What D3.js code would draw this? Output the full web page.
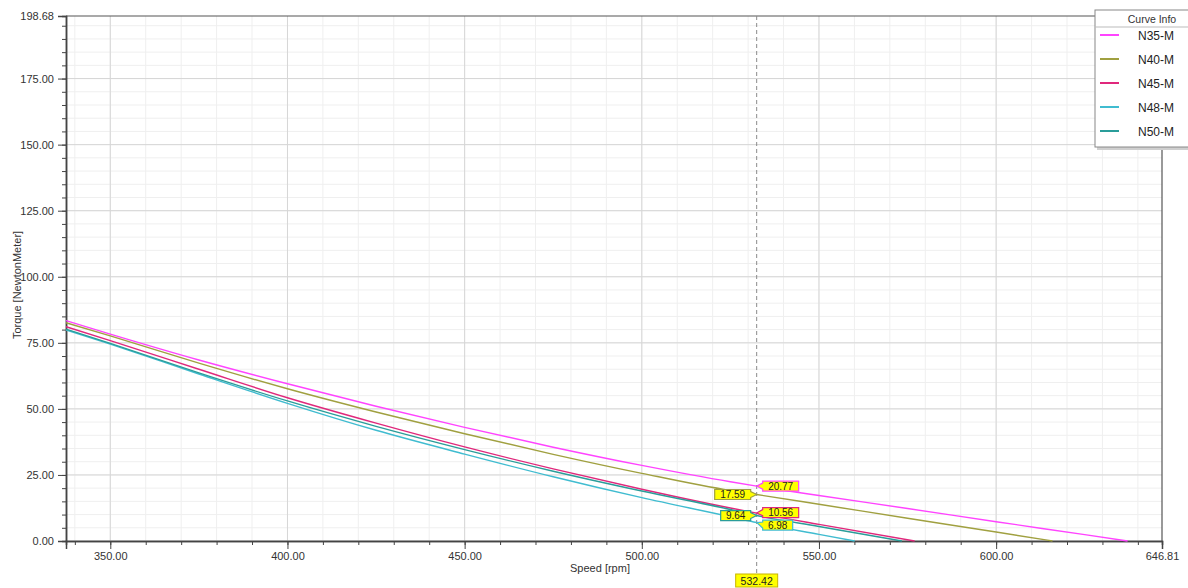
<!DOCTYPE html>
<html>
<head>
<meta charset="utf-8">
<script src="https://cdn.jsdelivr.net/npm/d3@7/dist/d3.min.js"></script>
<style>
  html, body { margin: 0; padding: 0; background: #fff; }
  svg { display: block; font-family: "Liberation Sans", Arial, sans-serif; }
</style>
</head>
<body>
<svg id="chart" width="1188" height="588"></svg>
<script>
// Torque vs speed curves for the magnet grades
const seriesNames = ["N35-M", "N40-M", "N45-M", "N48-M", "N50-M"];
const seriesColors = ["#ff44ff", "#a0a040", "#e0287c", "#40bcd0", "#2a9d9a"];

const speedN35 = [337.5, 350, 375, 400, 425, 450, 475, 500, 525, 532.42, 550, 575, 600, 625, 637.1];
const torqueN35 = [83.4, 78.3, 68.5, 59.5, 51.0, 43.0, 35.5, 28.6, 22.4, 20.77, 17.2, 12.3, 7.3, 2.4, 0];

const speedN40 = [337.5, 350, 375, 400, 425, 450, 475, 500, 525, 532.42, 550, 575, 600, 615.9];
const torqueN40 = [82.6, 77.6, 67.3, 57.6, 48.8, 40.6, 32.8, 25.6, 19.1, 17.59, 13.9, 8.6, 3.4, 0];

const speedN45 = [337.5, 350, 375, 400, 425, 450, 475, 500, 525, 532.42, 550, 577.0];
const torqueN45 = [81.1, 75.8, 65.0, 54.2, 44.6, 35.6, 27.3, 19.6, 12.5, 10.56, 6.3, 0];

const speedN48 = [337.5, 350, 375, 400, 425, 450, 475, 500, 525, 532.42, 550, 560.1];
const torqueN48 = [79.9, 74.5, 63.2, 52.1, 41.9, 32.9, 24.3, 16.4, 9.2, 6.98, 2.5, 0];

const speedN50 = [337.5, 350, 375, 400, 425, 450, 475, 500, 525, 532.42, 550, 573.4];
const torqueN50 = [80.2, 74.8, 63.6, 53.0, 43.4, 34.6, 26.4, 18.9, 11.9, 9.64, 5.5, 0];

const speedList = [speedN35, speedN40, speedN45, speedN48, speedN50];
const torqueList = [torqueN35, torqueN40, torqueN45, torqueN48, torqueN50];

// Cursor readout
const cursorSpeed = 532.42;
const cursorValues = [20.77, 17.59, 10.56, 6.98, 9.64];
const cursorSide = ["right", "left", "right", "right", "left"];
const cursorShift = [0, 0, -0.5, 2.5, 0];

// Axis ranges and ticks
const xMin = 337.5, xMax = 646.81;
const yMin = 0, yMax = 198.68;
const xMajorTicks = [350, 400, 450, 500, 550, 600];
const xMinorTicks = d3.range(340, 641, 10);
const yMajorTicks = [0, 25, 50, 75, 100, 125, 150, 175];
const yMinorTicks = d3.range(0, 196, 5);

const plot = { left: 66, right: 1162, top: 16, bottom: 541 };

const svg = d3.select("#chart");
const x = d3.scaleLinear().domain([xMin, xMax]).range([plot.left, plot.right]);
const y = d3.scaleLinear().domain([yMin, yMax]).range([plot.bottom, plot.top]);

// Grid
const grid = svg.append("g");
grid.selectAll("line.vminor").data(xMinorTicks).join("line")
  .attr("x1", d => x(d)).attr("x2", d => x(d))
  .attr("y1", plot.top).attr("y2", plot.bottom)
  .attr("stroke", "#efefef").attr("stroke-width", 1);
grid.selectAll("line.hminor").data(yMinorTicks).join("line")
  .attr("y1", d => y(d)).attr("y2", d => y(d))
  .attr("x1", plot.left).attr("x2", plot.right)
  .attr("stroke", "#efefef").attr("stroke-width", 1);
grid.selectAll("line.vmajor").data(xMajorTicks).join("line")
  .attr("x1", d => x(d)).attr("x2", d => x(d))
  .attr("y1", plot.top).attr("y2", plot.bottom)
  .attr("stroke", "#d6d6d6").attr("stroke-width", 1);
grid.selectAll("line.hmajor").data(yMajorTicks).join("line")
  .attr("y1", d => y(d)).attr("y2", d => y(d))
  .attr("x1", plot.left).attr("x2", plot.right)
  .attr("stroke", "#d6d6d6").attr("stroke-width", 1);

// Frame top and right
svg.append("line").attr("x1", plot.left).attr("x2", plot.right)
  .attr("y1", plot.top).attr("y2", plot.top).attr("stroke", "#555").attr("stroke-width", 1.2);
svg.append("line").attr("x1", plot.right).attr("x2", plot.right)
  .attr("y1", plot.top).attr("y2", plot.bottom).attr("stroke", "#555").attr("stroke-width", 1.2);

// Axes
const tickFont = "11px";
const xAxisMinor = d3.axisBottom(x).tickValues(xMinorTicks).tickSize(4).tickFormat("");
const xAxisMajor = d3.axisBottom(x).tickValues(xMajorTicks.concat([xMax])).tickSize(8)
  .tickFormat(d3.format(".2f"));
const gxm = svg.append("g").attr("transform", `translate(0,${plot.bottom})`).call(xAxisMinor);
const gx = svg.append("g").attr("transform", `translate(0,${plot.bottom})`).call(xAxisMajor);
[gxm, gx].forEach(g => {
  g.select(".domain").attr("stroke", "#444").attr("stroke-width", 1.5);
  g.selectAll(".tick line").attr("stroke", "#444");
});
gx.selectAll(".tick text").attr("font-size", tickFont).attr("fill", "#333").attr("dy", "0.55em")
  .attr("y", 13).style("font-family", "Liberation Sans, Arial, sans-serif");
gx.selectAll(".tick").filter(d => d === xMax).select("line").attr("y2", 4);

const yAxisMinor = d3.axisLeft(y).tickValues(yMinorTicks).tickSize(4).tickFormat("");
const yAxisMajor = d3.axisLeft(y).tickValues(yMajorTicks.concat([yMax])).tickSize(8)
  .tickFormat(d3.format(".2f"));
const gym = svg.append("g").attr("transform", `translate(${plot.left},0)`).call(yAxisMinor);
const gy = svg.append("g").attr("transform", `translate(${plot.left},0)`).call(yAxisMajor);
[gym, gy].forEach(g => {
  g.select(".domain").attr("stroke", "#444").attr("stroke-width", 1.5);
  g.selectAll(".tick line").attr("stroke", "#444");
});
gy.selectAll(".tick text").attr("font-size", tickFont).attr("fill", "#333").attr("x", -12)
  .style("font-family", "Liberation Sans, Arial, sans-serif");

// Axis titles
svg.append("text").attr("x", 600).attr("y", 572).attr("text-anchor", "middle")
  .attr("font-size", "11px").attr("fill", "#333").text("Speed [rpm]");
svg.append("text").attr("transform", `translate(21,285) rotate(-90)`).attr("text-anchor", "middle")
  .attr("font-size", "11px").attr("fill", "#333").text("Torque  [NewtonMeter]");

// Curves
const line = d3.line().x(d => x(d[0])).y(d => y(d[1])).curve(d3.curveMonotoneX);
seriesNames.forEach((name, i) => {
  const pts = speedList[i].map((s, k) => [s, torqueList[i][k]]);
  svg.append("path").datum(pts).attr("d", line)
    .attr("fill", "none").attr("stroke", seriesColors[i]).attr("stroke-width", 1.4);
});

// Cursor line
svg.append("line").attr("x1", x(cursorSpeed)).attr("x2", x(cursorSpeed))
  .attr("y1", plot.top).attr("y2", 574)
  .attr("stroke", "#8a8a8a").attr("stroke-width", 1).attr("stroke-dasharray", "4,3");

// Value callouts at the cursor: a yellow tag whose pointer touches the curve
function callout(px, py, shift, text, color, side) {
  const w = text.length * 6 + 6, h = 10;
  const cy = py + shift;
  const dir = side === "right" ? 1 : -1;
  const bx = px + dir * 6;
  const pts = [[px, py], [bx, cy - 3], [bx, cy - h / 2], [bx + dir * w, cy - h / 2],
               [bx + dir * w, cy + h / 2], [bx, cy + h / 2], [bx, cy + 3]];
  svg.append("polygon").attr("points", pts.map(p => p.join(",")).join(" "))
    .attr("fill", "#ffff00").attr("stroke", color).attr("stroke-width", 1.2);
  svg.append("text").attr("x", bx + dir * w / 2).attr("y", cy + 3.6).attr("text-anchor", "middle")
    .attr("font-size", "10px").attr("fill", "#222").text(text);
}
cursorValues.forEach((v, i) => {
  callout(x(cursorSpeed), y(v), cursorShift[i], d3.format(".2f")(v), seriesColors[i], cursorSide[i]);
});

// Speed readout under the axis
const sLabel = d3.format(".2f")(cursorSpeed);
const sw = sLabel.length * 6 + 6;
svg.append("rect").attr("x", x(cursorSpeed) - sw / 2).attr("y", 574).attr("width", sw).attr("height", 13)
  .attr("fill", "#ffff00").attr("stroke", "#c8b400").attr("stroke-width", 1);
svg.append("text").attr("x", x(cursorSpeed)).attr("y", 584.5).attr("text-anchor", "middle")
  .attr("font-size", "10.5px").attr("fill", "#222").text(sLabel);

// Legend
const lg = svg.append("g").attr("transform", "translate(1095,10)");
lg.append("rect").attr("x", 2).attr("y", 2).attr("width", 100).attr("height", 138)
  .attr("fill", "#cfcfcf");
lg.append("rect").attr("x", 0).attr("y", 0).attr("width", 100).attr("height", 137)
  .attr("fill", "#fff").attr("stroke", "#888").attr("stroke-width", 1);
lg.append("text").attr("x", 57).attr("y", 13).attr("text-anchor", "middle")
  .attr("font-size", "10.5px").attr("fill", "#333").text("Curve Info");
lg.append("line").attr("x1", 0).attr("x2", 100).attr("y1", 17).attr("y2", 17)
  .attr("stroke", "#bbb");
seriesNames.forEach((name, i) => {
  const yy = 25 + i * 24;
  lg.append("line").attr("x1", 5).attr("x2", 24).attr("y1", yy).attr("y2", yy)
    .attr("stroke", seriesColors[i]).attr("stroke-width", 2);
  lg.append("text").attr("x", 43).attr("y", yy + 5).attr("font-size", "12px")
    .attr("fill", "#222").text(name);
});
</script>
</body>
</html>
